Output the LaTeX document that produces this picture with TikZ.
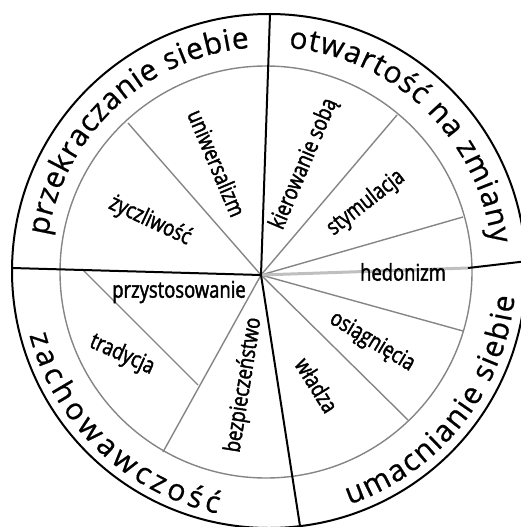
\documentclass[tikz,border=0pt]{standalone}
\usepackage{fontspec}
\setmainfont{Open Sans}[FakeBold=0.6]
\newfontfamily\innerfam[FakeStretch=0.8,FakeBold=1.8]{Open Sans}
\newcommand\outerfont{\fontsize{30}{32}\selectfont}
\usetikzlibrary{decorations.text}
\begin{document}
\begin{tikzpicture}[x=1pt,y=1pt,
  blk/.style={line width=2pt, black},
  gry/.style={line width=1.4pt, black!48},
  hedl/.style={line width=3pt, black!25},
  lbl/.style={font=\innerfam\fontsize{23}{25}\selectfont, inner sep=0pt},
  arctext/.style={decorate, decoration={text along path, text={|\outerfont|#1}, text align={fit to path}}}
  ]
\useasboundingbox (0,0) rectangle (521,-527);
\clip (0,0) rectangle (521,-527);
\coordinate (O) at (261,-275);
\coordinate (Co) at (269,-271);
\coordinate (Ci) at (266,-272);
% circles
\draw[gry] (Ci) circle[radius=206];
\draw[blk] (Co) circle[radius=257];
% gray dividers
\coordinate (g1) at (128,-123);
\coordinate (g2) at (397,-115);
\coordinate (g3) at (463,-217);
\coordinate (g4) at (463,-331);
\coordinate (g5) at (408,-420);
\coordinate (g6) at (163,-452);
\coordinate (pa) at (82,-269);
\coordinate (pb) at (198,-385);
\draw[gry] (O) -- (g1);
\draw[gry] (O) -- (g2);
\draw[gry] (O) -- (g3);
\draw[gry] (O) -- (g4);
\draw[gry] (O) -- (g5);
\draw[gry] (O) -- (g6);
\draw[gry] (pa) -- (pb);
% black dividers
\coordinate (T) at (270,-14);
\coordinate (L) at (12,-268);
\coordinate (B) at (300,-526);
\coordinate (Ri) at (468,-268);
\coordinate (Ro) at (528,-261);
\draw[hedl] (O) -- (Ri);
\draw[blk] (Ri) -- (Ro);
\draw[blk] (O) -- (T);
\draw[blk] (O) -- (L);
\draw[blk] (O) -- (B);
% outer texts
\path[arctext={przekraczanie siebie}] ([shift={(171:224)}]Co) arc[start angle=171, end angle=95, radius=224];
\path[arctext={otwartość na zmiany}] ([shift={(85:224)}]Co) arc[start angle=85, end angle=7, radius=224];
\path[arctext={zachowawczość}] ([shift={(195:248)}]Co) arc[start angle=195, end angle=258, radius=248];
\path[arctext={umacnianie siebie}] ([shift={(289:247)}]Co) arc[start angle=289, end angle=354, radius=247];
% inner labels
\node[lbl, rotate=-67] (univ) at (217,-163) {uniwersalizm};
\node[lbl, rotate=-25] (zycz) at (150,-221) {życzliwość};
\node[lbl, rotate=67] (kier) at (304,-164) {kierowanie sobą};
\node[lbl, rotate=38] (stym) at (366,-203) {stymulacja};
\node[lbl] (hedo) at (403,-272) {hedonizm};
\node[lbl, rotate=-31] (osia) at (372,-342) {osiągnięcia};
\node[lbl, rotate=-58] (wlad) at (317,-385) {władza};
\node[lbl, rotate=81] (bezp) at (244,-385) {bezpieczeństwo};
\node[lbl] (przy) at (179,-292) {przystosowanie};
\node[lbl, rotate=-24] (trad) at (122,-355) {tradycja};
\end{tikzpicture}
\end{document}
